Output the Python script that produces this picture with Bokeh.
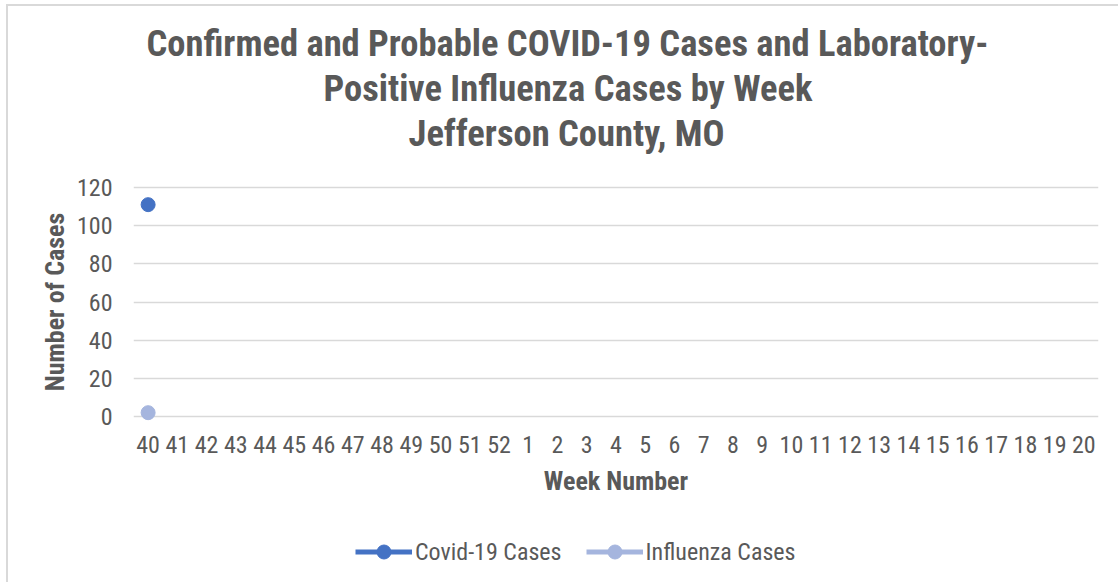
from bokeh.plotting import figure
from bokeh.layouts import column
from bokeh.models import (FactorRange, Range1d, FixedTicker, Title, Legend, LegendItem,
                          ColumnDataSource)
from bokeh.embed import file_html
from bokeh.resources import INLINE

# ---- data ----
weeks = [str(w) for w in range(40, 53)] + [str(w) for w in range(1, 21)]
covid_weeks = ["40"]
covid_cases = [111]
flu_weeks = ["40"]
flu_cases = [2]
y_ticks = [0, 20, 40, 60, 80, 100, 120]
series_names = ["Covid-19 Cases", "Influenza Cases"]

title_lines = ["Confirmed and Probable COVID-19 Cases and Laboratory-",
               "Positive Influenza Cases by Week",
               "Jefferson County, MO"]
title_offsets = [13, 190, 275]

FONT = "Roboto Condensed, Liberation Sans, sans-serif"
TXT = "#595959"
COVID_C = "#4472C4"
FLU_C = "#A5B5DE"

x_range = FactorRange(factors=weeks, range_padding=0)
p = figure(width=1110, height=510, x_range=x_range,
           y_range=Range1d(-4.19, 124.19), output_backend="svg", toolbar_location=None,
           min_border_left=125, min_border_right=20, min_border_top=173,
           min_border_bottom=92)
p.title = None
p.outline_line_color = None
p.background_fill_color = "white"
p.border_fill_color = "white"

# spacer between title block and plot area
p.add_layout(Title(text=" ", text_font=FONT, text_font_size="19px", standoff=0), "above")
for line, off in reversed(list(zip(title_lines, title_offsets))):
    p.add_layout(Title(text=line, align="left", offset=off, text_font=FONT,
                       text_font_size="36.5px", text_font_style="bold", text_color=TXT,
                       standoff=0),
                 "above")

covid_src = ColumnDataSource(dict(x=covid_weeks, y=covid_cases))
flu_src = ColumnDataSource(dict(x=flu_weeks, y=flu_cases))

p.line("x", "y", source=covid_src, line_color=COVID_C, line_width=5)
p.scatter("x", "y", source=covid_src, size=14, fill_color=COVID_C, line_color=COVID_C)
p.line("x", "y", source=flu_src, line_color=FLU_C, line_width=5)
p.scatter("x", "y", source=flu_src, size=14, fill_color=FLU_C, line_color=FLU_C)

# axes
p.yaxis.ticker = FixedTicker(ticks=y_ticks)
for ax in (p.xaxis[0], p.yaxis[0]):
    ax.axis_line_color = None
    ax.major_tick_line_color = None
    ax.minor_tick_line_color = None
    ax.major_tick_out = 0
    ax.major_tick_in = 0
    ax.major_label_text_font = FONT
    ax.major_label_text_font_size = "24px"
    ax.major_label_text_color = TXT
    ax.axis_label_text_font = FONT
    ax.axis_label_text_font_size = "26px"
    ax.axis_label_text_font_style = "bold"
    ax.axis_label_text_color = TXT
p.xaxis.axis_label = "Week Number"
p.yaxis.axis_label = "Number of Cases"
p.xaxis.major_label_standoff = 11
p.xaxis.axis_label_standoff = 10
p.yaxis.major_label_standoff = 21
p.yaxis.axis_label_standoff = 4

p.xgrid.grid_line_color = None
p.ygrid.grid_line_color = "#D9D9D9"
p.ygrid.grid_line_width = 1.5

# ---- legend strip below the chart (series glyphs kept out of view) ----
lf = figure(width=1110, height=66, x_range=x_range, y_range=Range1d(1000, 1001),
            output_backend="svg", toolbar_location=None, min_border=0,
            x_axis_location=None, y_axis_location=None)
lf.title = None
lf.outline_line_color = None
lf.grid.grid_line_color = None
lf.background_fill_color = "white"
lf.border_fill_color = "white"
l1 = lf.line("x", "y", source=covid_src, line_color=COVID_C, line_width=5)
s1 = lf.scatter("x", "y", source=covid_src, size=14, fill_color=COVID_C, line_color=COVID_C)
l2 = lf.line("x", "y", source=flu_src, line_color=FLU_C, line_width=5)
s2 = lf.scatter("x", "y", source=flu_src, size=14, fill_color=FLU_C, line_color=FLU_C)
legend = Legend(items=[LegendItem(label=series_names[0], renderers=[l1, s1]),
                       LegendItem(label=series_names[1], renderers=[l2, s2])],
                location=(222, 13), orientation="horizontal",
                label_text_font=FONT, label_text_font_size="24px", label_text_color=TXT,
                glyph_width=57, glyph_height=35, label_height=20, label_standoff=3,
                spacing=24, padding=0, margin=0,
                border_line_color=None, background_fill_alpha=0)
lf.add_layout(legend, "center")

layout = column(p, lf, spacing=0)
layout.styles = {"margin-left": "6px", "margin-top": "4px",
                 "border-top": "2px solid #D9D9D9", "border-left": "2px solid #D9D9D9"}

open("out.html", "w").write(file_html(layout, INLINE))
